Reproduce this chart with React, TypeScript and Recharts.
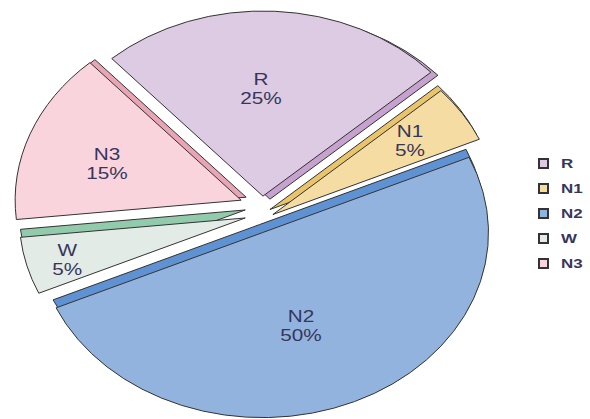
import React from 'react';
import { PieChart, Pie, Cell, Legend, Tooltip } from 'recharts';

// ---------- data ----------
const categories = ['R', 'N1', 'N2', 'W', 'N3'];
const shareValues = [25, 5, 50, 5, 15];
const shareLabels = ['25%', '5%', '50%', '5%', '15%'];

// ---------- styles ----------
const faceColors: Record<string, string> = {
  R: '#ddcbe3',
  N1: '#f5dca2',
  N2: '#93b3df',
  W: '#e3ebe6',
  N3: '#f9d4dc',
};
const sideColors: Record<string, string> = {
  R: '#c7a2cf',
  N1: '#e9c46a',
  N2: '#5f92d2',
  W: '#92cbab',
  N3: '#e9a5b5',
};
// offset of the slab "side" relative to the top face
const sideOffsets: Record<string, [number, number]> = {
  R: [7, 3],
  N1: [-3, -5],
  N2: [-3, -8],
  W: [0, -8],
  N3: [5, -3],
};
// explosion per slice: [distance, angle tweak in degrees] (perspective look)
const explodeBy: Record<string, [number, number]> = {
  R: [25, -10.8],
  N1: [16, -26.5],
  N2: [21, -8.7],
  W: [12, -3.5],
  N3: [25, -29.6],
};
// label placement: [radius factor, angle tweak]
const labelPlacement: Record<string, [number, number]> = {
  R: [0.584, 3.9],
  N1: [0.728, 0.6],
  N2: [0.528, -5.2],
  W: [0.818, 0.7],
  N3: [0.626, 2.4],
};

const TILT = 0.819;
const RAD = Math.PI / 180;
const TEXT_COLOR = '#36365c';
const LABEL_STRETCH = 1.22;
const LEGEND_STRETCH = 1.3;

const pieData = categories.map((name, i) => ({
  name,
  value: shareValues[i],
  pct: shareLabels[i],
}));

function ellPt(cx: number, cy: number, rx: number, ry: number, deg: number) {
  return [cx + rx * Math.cos(deg * RAD), cy - ry * Math.sin(deg * RAD)];
}

function sectorPath(cx: number, cy: number, rx: number, ry: number, start: number, end: number) {
  const [x1, y1] = ellPt(cx, cy, rx, ry, start);
  const [x2, y2] = ellPt(cx, cy, rx, ry, end);
  const sweep = Math.abs(start - end);
  const large = sweep > 180.001 ? 1 : 0;
  const sweepFlag = start > end ? 1 : 0;
  return `M${cx},${cy} L${x1},${y1} A${rx},${ry} 0 ${large} ${sweepFlag} ${x2},${y2} Z`;
}

function explodedCenter(cx: number, cy: number, mid: number, name: string) {
  const [d, tw] = explodeBy[name] ?? [15, 0];
  const a = mid + tw;
  return [cx + d * Math.cos(a * RAD), cy - d * TILT * Math.sin(a * RAD)];
}

function SlabSector(props: any) {
  const { cx, cy, outerRadius, startAngle, endAngle, fill, payload } = props;
  const name = payload?.name ?? props.name;
  const mid = (startAngle + endAngle) / 2;
  const rx = outerRadius;
  const ry = outerRadius * TILT;
  const [ex, ey] = explodedCenter(cx, cy, mid, name);
  const off = sideOffsets[name] || [0, 0];
  return (
    <g>
      <path
        d={sectorPath(ex + off[0], ey + off[1], rx, ry, startAngle, endAngle)}
        fill={sideColors[name]}
        stroke="#333"
        strokeWidth={1}
        strokeLinejoin="round"
      />
      <path
        d={sectorPath(ex, ey, rx, ry, startAngle, endAngle)}
        fill={fill}
        stroke="#333"
        strokeWidth={1}
        strokeLinejoin="round"
      />
    </g>
  );
}

function SliceLabel(props: any) {
  const { cx, cy, outerRadius, startAngle, endAngle, payload } = props;
  const name = payload?.name ?? props.name;
  const pct = payload?.pct;
  const mid = (startAngle + endAngle) / 2;
  const [ex, ey] = explodedCenter(cx, cy, mid, name);
  const [f, da] = labelPlacement[name] || [0.6, 0];
  const a = mid + da;
  const x = ex + outerRadius * f * Math.cos(a * RAD);
  const y = ey - outerRadius * TILT * f * Math.sin(a * RAD);
  const common = {
    textAnchor: 'middle' as const,
    dominantBaseline: 'central' as const,
    fontFamily: "'Liberation Sans', Arial, sans-serif",
    fontSize: 17,
    fill: TEXT_COLOR,
  };
  return (
    <g transform={`translate(${x},${y}) scale(${LABEL_STRETCH},1)`}>
      <text x={0} y={-9} {...common}>
        {name}
      </text>
      <text x={0} y={10} {...common}>
        {pct}
      </text>
    </g>
  );
}

function LegendContent() {
  return (
    <div style={{ display: 'flex', flexDirection: 'column' }}>
      {pieData.map((d) => (
        <div key={d.name} style={{ display: 'flex', alignItems: 'center', height: 24.8 }}>
          <div
            style={{
              width: 7,
              height: 7,
              border: '2px solid #333',
              background: faceColors[d.name],
              marginRight: 12,
              flex: 'none',
            }}
          />
          <span
            style={{
              fontFamily: "'Liberation Sans', Arial, sans-serif",
              fontSize: 13,
              fontWeight: 'bold',
              lineHeight: '13px',
              color: TEXT_COLOR,
              display: 'inline-block',
              transform: `scale(${LEGEND_STRETCH},1)`,
              transformOrigin: 'left center',
            }}
          >
            {d.name}
          </span>
        </div>
      ))}
    </div>
  );
}

export default function App() {
  return (
    <div style={{ position: 'absolute', left: 0, top: 0, width: 590, height: 419, background: '#fff' }}>
      <PieChart width={590} height={419} margin={{ top: 0, right: 0, bottom: 0, left: 0 }}>
        <Pie
          data={pieData}
          dataKey="value"
          nameKey="name"
          cx={257}
          cy={216}
          outerRadius={226}
          startAngle={132}
          endAngle={-228}
          isAnimationActive={false}
          shape={SlabSector}
          activeShape={SlabSector}
          inactiveShape={SlabSector}
          label={SliceLabel}
          labelLine={false}
          stroke="#333"
        >
          {pieData.map((d) => (
            <Cell key={d.name} fill={faceColors[d.name]} />
          ))}
        </Pie>
        <Tooltip defaultIndex={0} content={() => null} cursor={false} />
        <Legend
          layout="vertical"
          align="right"
          verticalAlign="top"
          content={LegendContent}
          wrapperStyle={{ left: 538, top: 151.6, width: 52 }}
        />
      </PieChart>
    </div>
  );
}
